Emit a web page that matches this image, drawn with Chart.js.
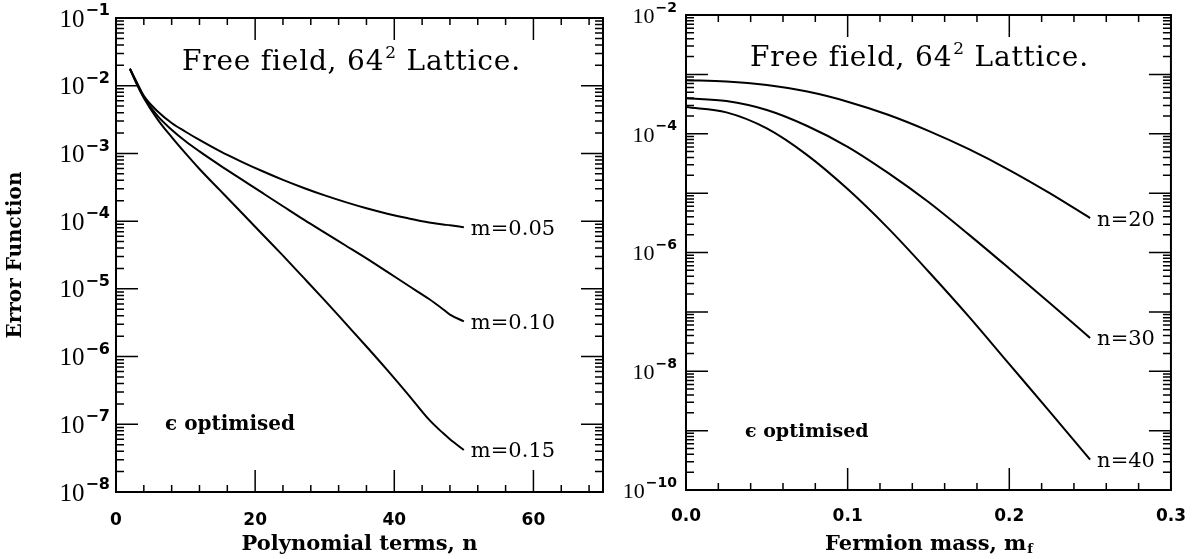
<!DOCTYPE html>
<html>
<head>
<meta charset="utf-8">
<script src="https://cdn.jsdelivr.net/npm/chart.js@4.4.1/dist/chart.umd.min.js"></script>
<style>
  html, body { margin: 0; padding: 0; background: #fff; }
  #wrap { position: relative; width: 1202px; height: 559px; }
  canvas { position: absolute; top: 0; }
</style>
</head>
<body>
<div id="wrap">
  <canvas id="left" width="610" height="559" style="left:0"></canvas>
  <canvas id="right" width="592" height="559" style="left:610px"></canvas>
</div>
<script>
// left panel: error against number of polynomial terms
const termsN = [2, 3, 4, 6, 8, 10, 12, 15, 18, 21, 24, 27, 30, 33, 36, 39, 42, 45, 47, 48, 50];
const errM005 = [1.78e-2, 1.12e-2, 7.08e-3, 4.17e-3, 2.82e-3, 2.09e-3, 1.58e-3, 1.07e-3, 7.59e-4, 5.50e-4, 4.07e-4,
  3.09e-4, 2.40e-4, 1.91e-4, 1.55e-4, 1.29e-4, 1.10e-4, 9.55e-5, 8.91e-5, 8.71e-5, 8.13e-5];
const errM010 = [1.78e-2, 1.07e-2, 6.76e-3, 3.55e-3, 2.24e-3, 1.51e-3, 1.07e-3, 6.61e-4, 4.17e-4, 2.63e-4, 1.66e-4,
  1.05e-4, 6.76e-5, 4.37e-5, 2.82e-5, 1.78e-5, 1.12e-5, 7.08e-6, 5.01e-6, 4.17e-6, 3.31e-6];
const errM015 = [1.78e-2, 1.05e-2, 6.61e-3, 3.16e-3, 1.74e-3, 1.00e-3, 5.89e-4, 2.82e-4, 1.35e-4, 6.46e-5, 3.09e-5,
  1.45e-5, 6.76e-6, 3.09e-6, 1.41e-6, 6.31e-7, 2.75e-7, 1.17e-7, 7.41e-8, 6.03e-8, 4.17e-8];
const leftSeriesLabels = ["m=0.05", "m=0.10", "m=0.15"];
const leftXTicks = [0, 20, 40, 60];
const leftYTickValues = [1e-1, 1e-2, 1e-3, 1e-4, 1e-5, 1e-6, 1e-7, 1e-8];
const leftYTickLabels = ["\u22121", "\u22122", "\u22123", "\u22124", "\u22125", "\u22126", "\u22127", "\u22128"];

// right panel: error against fermion mass
const fermionMass = [0, 0.025, 0.05, 0.075, 0.1, 0.125, 0.15, 0.175, 0.2, 0.225, 0.25];
const errN20 = [7.94e-4, 7.59e-4, 6.61e-4, 5.13e-4, 3.47e-4, 2.09e-4, 1.12e-4, 5.50e-5, 2.45e-5, 1.00e-5, 3.80e-6];
const errN30 = [3.98e-4, 3.55e-4, 2.51e-4, 1.35e-4, 6.03e-5, 2.19e-5, 7.08e-6, 2.00e-6, 5.37e-7, 1.41e-7, 3.63e-8];
const errN40 = [2.82e-4, 2.29e-4, 1.23e-4, 4.37e-5, 1.17e-5, 2.57e-6, 4.79e-7, 8.32e-8, 1.32e-8, 2.09e-9, 3.24e-10];
const rightSeriesLabels = ["n=20", "n=30", "n=40"];
const rightXTicks = [0, 0.1, 0.2, 0.3];
const rightYTickValues = [1e-2, 1e-4, 1e-6, 1e-8, 1e-10];
const rightYTickLabels = ["\u22122", "\u22124", "\u22126", "\u22128", "\u221210"];

const headingMain = "Free field, 64";
const headingSup = "2";
const headingRest = " Lattice.";
const noteText = "\u03f5 optimised";

// frame, inward ticks and all the extra text, drawn after the lines
function makePaper(cfg) {
  return {
    id: "paper",
    afterDraw(chart) {
      const ctx = chart.ctx, a = chart.chartArea;
      const xs = chart.scales.x, ys = chart.scales.y;
      ctx.save();
      ctx.strokeStyle = "#000";
      ctx.fillStyle = "#000";
      ctx.lineWidth = 2;
      ctx.strokeRect(a.left, a.top, a.right - a.left, a.bottom - a.top);

      ctx.lineWidth = 1.5;
      ctx.beginPath();
      const steps = Math.round((xs.max - xs.min) / cfg.xMinor);
      for (let i = 0; i <= steps; i++) {
        const v = xs.min + i * cfg.xMinor;
        const px = xs.getPixelForValue(v);
        const r = v / cfg.xMajor;
        const len = Math.abs(r - Math.round(r)) < 1e-6 ? 22 : 7;
        ctx.moveTo(px, a.bottom); ctx.lineTo(px, a.bottom - len);
        ctx.moveTo(px, a.top); ctx.lineTo(px, a.top + len);
      }
      const eLo = Math.round(Math.log10(ys.min)), eHi = Math.round(Math.log10(ys.max));
      for (let e = eLo; e <= eHi; e++) {
        for (let k = 1; k <= 9; k++) {
          if (e === eHi && k > 1) break;
          const py = ys.getPixelForValue(k * Math.pow(10, e));
          const len = k === 1 ? 22 : 8;
          ctx.moveTo(a.left, py); ctx.lineTo(a.left + len, py);
          ctx.moveTo(a.right, py); ctx.lineTo(a.right - len, py);
        }
      }
      ctx.stroke();

      // y tick labels 10^n
      ctx.textBaseline = "middle";
      ctx.textAlign = "left";
      cfg.yTickValues.forEach((v, i) => {
        const py = ys.getPixelForValue(v);
        const exp = cfg.yTickLabels[i];
        ctx.font = cfg.expFont;
        const ew = ctx.measureText(exp).width;
        ctx.font = cfg.baseFont;
        const bw = ctx.measureText("10").width;
        const right = a.left - cfg.labelGap;
        ctx.fillText("10", right - ew - bw - 1, py + 2);
        ctx.font = cfg.expFont;
        ctx.fillText(exp, right - ew, py - 7);
      });

      // heading
      ctx.textBaseline = "alphabetic";
      ctx.letterSpacing = cfg.headSpacing;
      ctx.font = cfg.headFont;
      let hx = a.left + cfg.headDx;
      ctx.fillText(headingMain, hx, cfg.headY);
      hx += ctx.measureText(headingMain).width;
      ctx.font = cfg.headSupFont;
      ctx.fillText(headingSup, hx + 1, cfg.headY - 12);
      hx += ctx.measureText(headingSup).width + 1;
      ctx.font = cfg.headFont;
      ctx.fillText(headingRest, hx, cfg.headY);
      ctx.letterSpacing = "0px";

      // note
      ctx.textBaseline = "middle";
      ctx.font = cfg.noteFont;
      ctx.fillText(noteText, a.left + cfg.noteDx, cfg.noteY);

      // curve end labels
      ctx.font = cfg.curveFont;
      chart.data.datasets.forEach(ds => {
        const last = ds.data[ds.data.length - 1];
        const px = xs.getPixelForValue(last.x), py = ys.getPixelForValue(last.y);
        ctx.fillText(ds.label, px + 7, py + 2);
      });

      // x axis title
      ctx.font = cfg.titleFont;
      const mw = ctx.measureText(cfg.xTitle).width;
      ctx.font = cfg.subFont;
      const sw = cfg.xTitleSub ? ctx.measureText(cfg.xTitleSub).width : 0;
      const x0 = (a.left + a.right) / 2 - (mw + sw) / 2;
      ctx.font = cfg.titleFont;
      ctx.fillText(cfg.xTitle, x0, cfg.xTitleY);
      if (cfg.xTitleSub) {
        ctx.font = cfg.subFont;
        ctx.fillText(cfg.xTitleSub, x0 + mw + 1, cfg.xTitleY + 5);
      }
      ctx.restore();
    }
  };
}

function buildChart(id, o) {
  return new Chart(document.getElementById(id), {
    type: "line",
    data: {
      datasets: o.series.map(s => ({
        label: s.label,
        data: o.xs.map((x, i) => ({ x: x, y: s.values[i] })),
        borderColor: "#000",
        borderWidth: 2,
        pointRadius: 0,
        cubicInterpolationMode: "monotone",
        fill: false
      }))
    },
    options: {
      responsive: false,
      animation: false,
      events: [],
      layout: { padding: { top: o.padTop, right: o.padRight, left: 0, bottom: 0 } },
      scales: {
        x: {
          type: "linear",
          min: o.xMin,
          max: o.xMax,
          grid: { display: false, drawTicks: false },
          border: { display: false },
          afterBuildTicks: s => { s.ticks = o.xTicks.map(v => ({ value: v })); },
          ticks: {
            color: "#000",
            font: { family: "DejaVu Sans", weight: "bold", size: 17 },
            padding: o.xLabelPad,
            autoSkip: false,
            maxRotation: 0,
            callback: o.xFmt
          },
          afterFit: s => { s.height = o.xHeight; }
        },
        y: {
          type: "logarithmic",
          min: o.yMin,
          max: o.yMax,
          grid: { display: false, drawTicks: false },
          border: { display: false },
          ticks: { display: false },
          title: {
            display: !!o.yTitle,
            text: o.yTitle || "",
            color: "#000",
            font: { family: "DejaVu Serif", weight: "bold", size: 20 },
            padding: { top: 4, bottom: 0 }
          },
          afterFit: s => { s.width = o.yWidth; }
        }
      },
      plugins: { legend: { display: false }, tooltip: { enabled: false } }
    },
    plugins: [makePaper(o.paper)]
  });
}

buildChart("left", {
  xs: termsN,
  series: [
    { label: leftSeriesLabels[0], values: errM005 },
    { label: leftSeriesLabels[1], values: errM010 },
    { label: leftSeriesLabels[2], values: errM015 }
  ],
  xMin: 0, xMax: 70, xTicks: leftXTicks, xFmt: v => String(v),
  yMin: 1e-8, yMax: 1e-1,
  yTitle: "Error Function",
  padTop: 18, padRight: 7, yWidth: 116, xHeight: 67, xLabelPad: 18,
  paper: {
    xMinor: 4, xMajor: 20,
    yTickValues: leftYTickValues, yTickLabels: leftYTickLabels,
    baseFont: '25px "Liberation Serif"', expFont: 'bold 16px "DejaVu Sans"', labelGap: 6,
    headFont: '28px "DejaVu Serif"', headSupFont: '17px "DejaVu Serif"', headSpacing: "0.8px", headDx: 66, headY: 70,
    noteFont: 'bold 20px "DejaVu Serif"', noteDx: 49, noteY: 425,
    curveFont: '21px "DejaVu Serif"',
    titleFont: 'bold 21px "DejaVu Serif"', subFont: 'bold 13px "DejaVu Serif"',
    xTitle: "Polynomial terms, n", xTitleSub: "", xTitleY: 545
  }
});

buildChart("right", {
  xs: fermionMass,
  series: [
    { label: rightSeriesLabels[0], values: errN20 },
    { label: rightSeriesLabels[1], values: errN30 },
    { label: rightSeriesLabels[2], values: errN40 }
  ],
  xMin: 0, xMax: 0.3, xTicks: rightXTicks, xFmt: v => Number(v).toFixed(1),
  yMin: 1e-10, yMax: 1e-2,
  yTitle: "",
  padTop: 15, padRight: 31, yWidth: 76, xHeight: 69, xLabelPad: 16,
  paper: {
    xMinor: 0.02, xMajor: 0.1,
    yTickValues: rightYTickValues, yTickLabels: rightYTickLabels,
    baseFont: '22px "Liberation Serif"', expFont: 'bold 14px "DejaVu Sans"', labelGap: 9,
    headFont: '28px "DejaVu Serif"', headSupFont: '17px "DejaVu Serif"', headSpacing: "0.8px", headDx: 64, headY: 66,
    noteFont: 'bold 19px "DejaVu Serif"', noteDx: 59, noteY: 432,
    curveFont: '21px "DejaVu Serif"',
    titleFont: 'bold 21px "DejaVu Serif"', subFont: 'bold 13px "DejaVu Serif"',
    xTitle: "Fermion mass, m", xTitleSub: "f", xTitleY: 545
  }
});
</script>
</body>
</html>
